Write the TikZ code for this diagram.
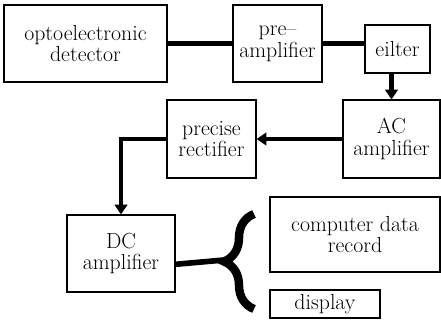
\documentclass[tikz,border=0pt]{standalone}
\usetikzlibrary{arrows.meta,positioning,decorations.pathreplacing}

\begin{document}
\begin{tikzpicture}[
      x=0.025cm, y=-0.025cm,
      every node/.style={rectangle,draw,line width=0.8pt,align=center,inner sep=0pt,
                         font=\fontsize{15.5}{15.5}\selectfont},
      link/.style={line width=3.5pt},
      flow/.style={link,-{Triangle[length=7pt,width=9pt]}},
      fork/.style={line width=6pt,decorate,decoration={brace,amplitude=0.75cm}},
  ]
  \useasboundingbox (0,0) rectangle (441,329);

  \node[minimum width=4.075cm, minimum height=1.925cm] (det) at (85.5,43.5) {optoelectronic\\detector};
  \node[minimum width=2.225cm, minimum height=1.925cm] (pre) at (277.5,43.5) {pre--\\amplifier};
  \node[minimum width=1.625cm, minimum height=1.2cm] (eil) at (397.5,49) {eilter};
  \node[minimum width=2.425cm, minimum height=1.95cm] (ac) at (391.5,139) {AC\\amplifier};
  \node[minimum width=2.225cm, minimum height=1.95cm] (rect) at (211.5,139) {precise\\rectifier};
  \node[minimum width=2.7cm, minimum height=1.925cm] (dc) at (121,253.5) {DC\\amplifier};
  \node[minimum width=4.25cm, minimum height=1.875cm] (comp) at (355,234.5) {computer data\\record};
  \node[minimum width=2.75cm, minimum height=0.7cm] (disp) at (325,304) {display};

  \draw[link] (det.east) -- (pre.west);
  \draw[link] (pre.east) -- (pre.east -| eil.west);
  \draw[flow] (eil.south -| ac.north) -- (ac.north);
  \draw[flow] (ac.west) -- (rect.east);
  \draw[flow] (rect.west) -| (dc.north);

  % output goes to both recorders
  \coordinate (tip) at (224,260);
  \draw[fork] (254,309) -- (254,214);
  \draw[line width=4pt] ([yshift=-0.27cm]dc.east) -- (tip);
\end{tikzpicture}
\end{document}
